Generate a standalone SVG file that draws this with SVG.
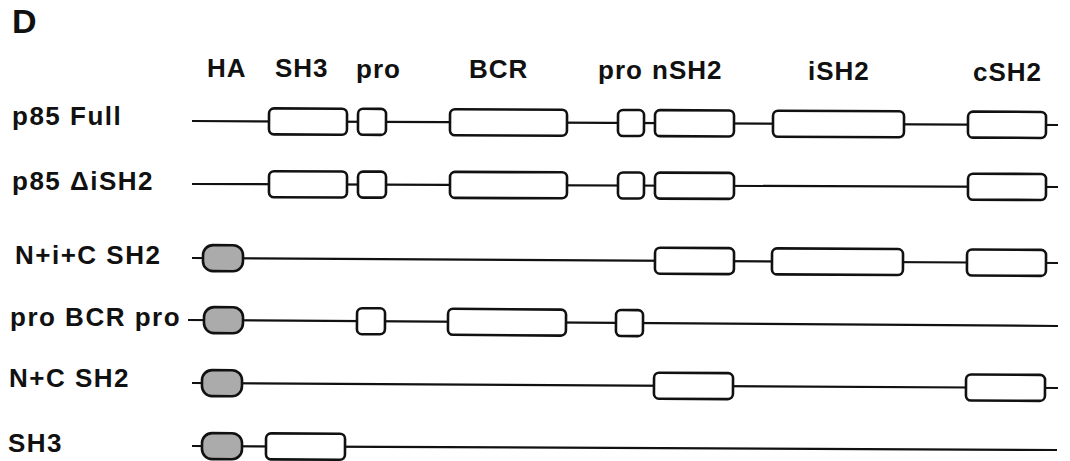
<svg xmlns="http://www.w3.org/2000/svg" width="1070" height="461" viewBox="0 0 1070 461">
<style>
  text { font-family: "Liberation Sans", Arial, sans-serif; font-weight: bold; fill: #111; }
  .title { font-size: 34px; }
  .hdr { font-size: 26px; letter-spacing: 1px; }
  .lbl { font-size: 26px; letter-spacing: 1.5px; }
  .ln { stroke: #111; stroke-width: 2.2; fill: none; }
  .box { fill: #fff; stroke: #111; stroke-width: 2.6; }
  .ha { fill: #ababab; stroke: #111; stroke-width: 2.6; }
</style>
<rect width="1070" height="461" fill="#fff"/>
<text class="title" x="12" y="33">D</text>
<g id="headers">
  <text class="hdr" x="207" y="77">HA</text>
  <text class="hdr" x="275" y="77">SH3</text>
  <text class="hdr" x="356" y="78">pro</text>
  <text class="hdr" x="469" y="78">BCR</text>
  <text class="hdr" x="598" y="79">pro</text>
  <text class="hdr" x="652" y="79">nSH2</text>
  <text class="hdr" x="808" y="80">iSH2</text>
  <text class="hdr" x="973" y="81">cSH2</text>
</g>
<g id="labels">
  <text class="lbl" x="12" y="125">p85 Full</text>
  <text class="lbl" x="12" y="190">p85 ΔiSH2</text>
  <text class="lbl" x="15" y="264">N+i+C SH2</text>
  <text class="lbl" x="10" y="326">pro BCR pro</text>
  <text class="lbl" x="9" y="387">N+C SH2</text>
  <text class="lbl" x="8" y="452">SH3</text>
</g>
<g id="connectors">
  <line class="ln" x1="192" y1="121" x2="1058" y2="125"/>
  <line class="ln" x1="192" y1="184" x2="1058" y2="187"/>
  <line class="ln" x1="192" y1="258" x2="1058" y2="263"/>
  <line class="ln" x1="188" y1="320" x2="1058" y2="326"/>
  <line class="ln" x1="192" y1="383" x2="1058" y2="388"/>
  <line class="ln" x1="192" y1="446" x2="1057" y2="450"/>
</g>
<g id="row-p85-full" transform="rotate(0.265 192 121)">
  <rect class="box" x="269" y="108" width="78" height="26" rx="5"/>
  <rect class="box" x="358" y="108" width="28" height="26" rx="5"/>
  <rect class="box" x="450" y="108" width="117" height="26" rx="5"/>
  <rect class="box" x="618" y="108" width="26" height="26" rx="5"/>
  <rect class="box" x="655" y="108" width="79" height="26" rx="5"/>
  <rect class="box" x="773" y="108" width="131" height="26" rx="5"/>
  <rect class="box" x="968" y="108" width="78" height="26" rx="5"/>
</g>
<g id="row-p85-delta-isH2" transform="rotate(0.2 192 184)">
  <rect class="box" x="269" y="171" width="78" height="26" rx="5"/>
  <rect class="box" x="358" y="171" width="28" height="26" rx="5"/>
  <rect class="box" x="450" y="171" width="117" height="26" rx="5"/>
  <rect class="box" x="618" y="171" width="26" height="26" rx="5"/>
  <rect class="box" x="655" y="171" width="79" height="26" rx="5"/>
  <rect class="box" x="968" y="171" width="78" height="26" rx="5"/>
</g>
<g id="row-n-i-c-sh2" transform="rotate(0.33 192 258)">
  <rect class="ha" x="203" y="245" width="40" height="26" rx="10"/>
  <rect class="box" x="655" y="245" width="79" height="26" rx="5"/>
  <rect class="box" x="772" y="245" width="131" height="26" rx="5"/>
  <rect class="box" x="967" y="245" width="79" height="26" rx="5"/>
</g>
<g id="row-pro-bcr-pro" transform="rotate(0.4 192 320)">
  <rect class="ha" x="204" y="307" width="39" height="26" rx="10"/>
  <rect class="box" x="357" y="307" width="28" height="26" rx="5"/>
  <rect class="box" x="448" y="307" width="118" height="26" rx="5"/>
  <rect class="box" x="616" y="307" width="27" height="26" rx="5"/>
</g>
<g id="row-n-c-sh2" transform="rotate(0.33 192 383)">
  <rect class="ha" x="202" y="370" width="40" height="26" rx="10"/>
  <rect class="box" x="654" y="370" width="79" height="26" rx="5"/>
  <rect class="box" x="966" y="370" width="79" height="26" rx="5"/>
</g>
<g id="row-sh3" transform="rotate(0.265 192 446)">
  <rect class="ha" x="202" y="433" width="40" height="26" rx="10"/>
  <rect class="box" x="266" y="433" width="79" height="26" rx="5"/>
</g>
</svg>
